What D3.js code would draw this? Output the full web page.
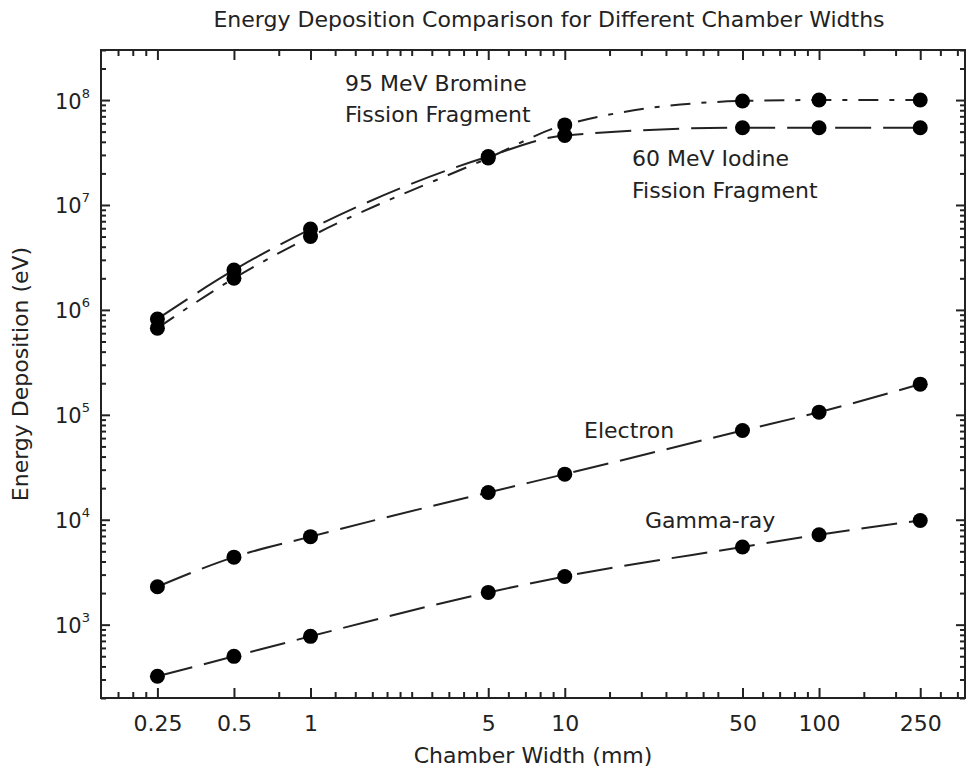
<!DOCTYPE html>
<html>
<head>
<meta charset="utf-8">
<script src="https://cdn.jsdelivr.net/npm/d3@7"></script>
<style>
  html, body { margin: 0; padding: 0; background: #fff; }
  svg { display: block; }
  text { font-family: "DejaVu Sans", sans-serif; fill: #222; }
</style>
</head>
<body>
<svg id="chart" width="967" height="773"></svg>
<script>
// ---- data ----
const widths = [0.25, 0.5, 1, 5, 10, 50, 100, 250];
const bromine = [6.7e5, 2.0e6, 5.0e6, 2.8e7, 5.8e7, 9.8e7, 1.0e8, 1.0e8];
const iodine = [8.2e5, 2.4e6, 5.9e6, 2.9e7, 4.6e7, 5.45e7, 5.45e7, 5.45e7];
const electron = [2300, 4400, 6900, 18200, 27200, 70800, 106000, 196000];
const gamma = [322, 499, 774, 2030, 2880, 5500, 7200, 9850];

const xMajorTicks = [0.25, 0.5, 1, 5, 10, 50, 100, 250];
const xMajorLabels = ["0.25", "0.5", "1", "5", "10", "50", "100", "250"];
const xMinorTicks = [0.175, 0.2, 0.225, 0.75, 1.25, 1.5, 1.75, 2, 2.25, 2.5, 3, 3.5, 4, 4.5,
                     6, 7, 8, 9, 15, 20, 25, 30, 35, 40, 60, 70, 80, 90, 150, 200, 300, 350];
const yMajorTicks = [1e3, 1e4, 1e5, 1e6, 1e7, 1e8];
const yExponents = ["3", "4", "5", "6", "7", "8"];

const titleText = "Energy Deposition Comparison for Different Chamber Widths";
const xTitle = "Chamber Width (mm)";
const yTitle = "Energy Deposition (eV)";

// ---- chart ----
const svg = d3.select("#chart");
svg.append("rect").attr("width", 967).attr("height", 773).attr("fill", "#fff");

const pL = 101, pR = 965, pT = 50, pB = 698;
const x = d3.scaleLog().domain([0.15, 375]).range([pL, pR]);
const y = d3.scaleLog().domain([200, 3e8]).range([pB, pT]);

// minor y ticks: 2..9 per decade within domain
const yMinorTicks = [];
for (let e = 2; e <= 8; e++) {
  for (let m = 2; m <= 9; m++) {
    const v = m * Math.pow(10, e);
    if (v >= 200 && v <= 3e8) yMinorTicks.push(v);
  }
}

const axisColor = "#222";
function styleAxis(g) {
  g.select(".domain").remove();
  g.selectAll(".tick line").attr("stroke", axisColor).attr("stroke-width", 2);
  g.selectAll(".tick text").attr("font-size", 22).attr("font-family", "DejaVu Sans, sans-serif").attr("fill", axisColor);
}

// bottom axis
svg.append("g").attr("transform", `translate(0,${pB})`)
  .call(d3.axisBottom(x).tickValues(xMinorTicks).tickSize(-6).tickFormat(""))
  .call(styleAxis);
svg.append("g").attr("transform", `translate(0,${pB})`)
  .call(d3.axisBottom(x).tickValues(xMajorTicks).tickSize(-10).tickPadding(17)
        .tickFormat((d, i) => xMajorLabels[i]))
  .call(styleAxis);
// top axis
svg.append("g").attr("transform", `translate(0,${pT})`)
  .call(d3.axisTop(x).tickValues(xMinorTicks).tickSize(-6).tickFormat(""))
  .call(styleAxis);
svg.append("g").attr("transform", `translate(0,${pT})`)
  .call(d3.axisTop(x).tickValues(xMajorTicks).tickSize(-10).tickFormat(""))
  .call(styleAxis);

// left axis
svg.append("g").attr("transform", `translate(${pL},0)`)
  .call(d3.axisLeft(y).tickValues(yMinorTicks).tickSize(-5).tickFormat(""))
  .call(styleAxis);
const yAxisG = svg.append("g").attr("transform", `translate(${pL},0)`)
  .call(d3.axisLeft(y).tickValues(yMajorTicks).tickSize(-9).tickPadding(11).tickFormat(""))
  .call(styleAxis);
yAxisG.selectAll(".tick text").each(function(d, i) {
  const t = d3.select(this);
  t.text(null).attr("dy", null).attr("y", 8).attr("font-size", 21)
    .attr("font-family", "DejaVu Sans, sans-serif").attr("fill", axisColor);
  t.append("tspan").text("10");
  t.append("tspan").attr("dy", -11).attr("font-size", 13).text(yExponents[i]);
});
// right axis
svg.append("g").attr("transform", `translate(${pR},0)`)
  .call(d3.axisRight(y).tickValues(yMinorTicks).tickSize(-5).tickFormat(""))
  .call(styleAxis);
svg.append("g").attr("transform", `translate(${pR},0)`)
  .call(d3.axisRight(y).tickValues(yMajorTicks).tickSize(-9).tickFormat(""))
  .call(styleAxis);

// frame
svg.append("rect").attr("x", pL).attr("y", pT)
  .attr("width", pR - pL).attr("height", pB - pT)
  .attr("fill", "none").attr("stroke", axisColor).attr("stroke-width", 2);

// series
const series = [
  { name: "bromine", values: bromine, dash: "20,11,5,11" },
  { name: "iodine", values: iodine, dash: "36,12" },
  { name: "electron", values: electron, dash: "36,12" },
  { name: "gamma", values: gamma, dash: "36,12" }
];
const line = d3.line()
  .x(d => x(d[0]))
  .y(d => y(d[1]))
  .curve(d3.curveMonotoneX);

series.forEach(s => {
  const pts = widths.map((w, i) => [w, s.values[i]]);
  svg.append("path")
    .datum(pts)
    .attr("d", line)
    .attr("fill", "none")
    .attr("stroke", "#222")
    .attr("stroke-width", 2)
    .attr("stroke-dasharray", s.dash);
});
series.forEach(s => {
  svg.append("g").selectAll("circle")
    .data(widths.map((w, i) => [w, s.values[i]]))
    .join("circle")
    .attr("cx", d => x(d[0]))
    .attr("cy", d => y(d[1]))
    .attr("r", 7.5)
    .attr("fill", "#000");
});

// annotations
const ann = [
  { t: "95 MeV Bromine", x: 345, y: 91 },
  { t: "Fission Fragment", x: 345, y: 122 },
  { t: "60 MeV Iodine", x: 632, y: 166 },
  { t: "Fission Fragment", x: 632, y: 198 },
  { t: "Electron", x: 584, y: 438 },
  { t: "Gamma-ray", x: 645, y: 528 }
];
svg.append("g").selectAll("text").data(ann).join("text")
  .attr("x", d => d.x).attr("y", d => d.y)
  .attr("font-size", 22)
  .text(d => d.t);

// titles
svg.append("text").attr("x", 549).attr("y", 27).attr("text-anchor", "middle")
  .attr("font-size", 22).text(titleText);
svg.append("text").attr("x", 533).attr("y", 763).attr("text-anchor", "middle")
  .attr("font-size", 22).text(xTitle);
svg.append("text")
  .attr("transform", "translate(28,374) rotate(-90)")
  .attr("text-anchor", "middle")
  .attr("font-size", 22).text(yTitle);
</script>
</body>
</html>
